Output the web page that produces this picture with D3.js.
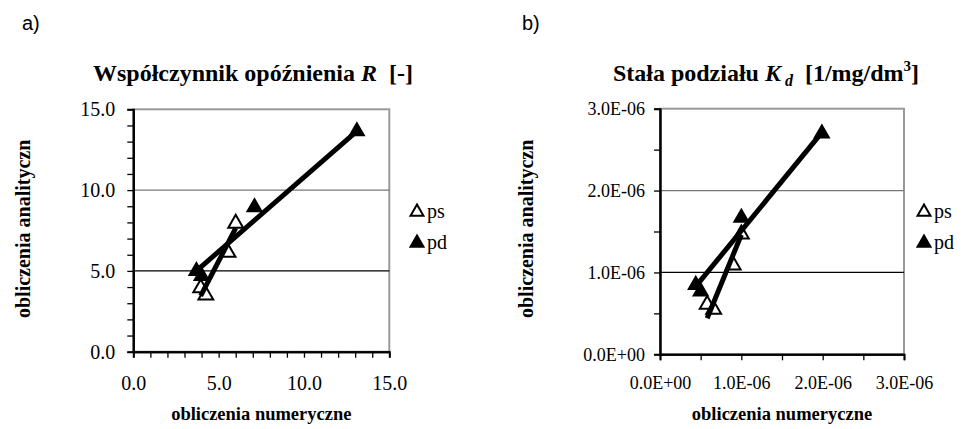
<!DOCTYPE html>
<html>
<head>
<meta charset="utf-8">
<script src="https://cdn.jsdelivr.net/npm/d3@7"></script>
<style>
  body { margin: 0; background: #fff; }
  svg { display: block; }
</style>
</head>
<body>
<svg id="chart" width="962" height="429"></svg>
<script>
// panel a: retardation factor R
const psNumA = [3.95, 4.25, 5.55, 6.0]
const psAnaA = [4.0, 3.55, 6.2, 8.0]
const pdNumA = [3.7, 4.0, 7.1, 13.1]
const pdAnaA = [5.05, 4.75, 9.0, 13.7]
const psTrendA = [[3.95, 3.45], [6.0, 7.65]]
const pdTrendA = [[3.7, 5.0], [13.1, 13.65]]
const ticksA = [0, 5, 10, 15]

// panel b: partition coefficient Kd
const psNumB = [1.0e-6, 0.9e-6, 0.58e-6, 0.66e-6]
const psAnaB = [1.48e-6, 1.1e-6, 0.62e-6, 0.56e-6]
const pdNumB = [1.0e-6, 0.44e-6, 0.5e-6, 1.99e-6]
const pdAnaB = [1.68e-6, 0.86e-6, 0.78e-6, 2.71e-6]
const psTrendB = [[0.58e-6, 0.44e-6], [1.0e-6, 1.46e-6]]
const pdTrendB = [[0.44e-6, 0.83e-6], [1.99e-6, 2.71e-6]]
const ticksB = [0, 1e-6, 2e-6, 3e-6]

const serif = "'Liberation Serif', serif"
const sans = "'Liberation Sans', sans-serif"
const zip = (a, b) => a.map((v, i) => [v, b[i]])
const fmtA = d3.format('.1f')
const fmtB = d => d === 0 ? '0.0E+00' : (d / 1e-6).toFixed(1) + 'E-06'

const svg = d3.select('#chart')

const panel = opts => {
  const g = svg.append('g')
  const x = d3.scaleLinear().domain(opts.domain).range([opts.left, opts.right])
  const y = d3.scaleLinear().domain(opts.domain).range([opts.bottom, opts.top])

  // panel letter
  g.append('text')
    .attr('x', opts.letterX).attr('y', 30)
    .style('font-family', sans).style('font-size', '20px')
    .text(opts.letter)

  // title
  const title = g.append('text')
    .attr('x', opts.titleX).attr('y', 81)
    .attr('text-anchor', 'middle')
    .style('font-family', serif).style('font-size', '24px').style('font-weight', 'bold')
  opts.title(title)

  // plot frame (grey top/right)
  g.append('rect')
    .attr('x', opts.left).attr('y', opts.top)
    .attr('width', opts.right - opts.left).attr('height', opts.bottom - opts.top)
    .attr('fill', 'none').attr('stroke', '#999').attr('stroke-width', 2)

  // gridlines
  g.selectAll('.grid')
    .data(opts.ticks.slice(1, -1))
    .enter().append('line')
    .attr('x1', opts.left).attr('x2', opts.right)
    .attr('y1', d => y(d)).attr('y2', d => y(d))
    .attr('stroke', (d, i) => i === 0 ? '#000' : '#777')
    .attr('stroke-width', 1.3)

  const minor = d3.range(opts.domain[0], opts.domain[1] + opts.minor / 2, opts.minor)

  const yAxis = g.append('g')
    .attr('transform', `translate(${opts.left},0)`)
    .call(d3.axisLeft(y).tickValues(minor).tickSize(6).tickFormat(''))
  yAxis.append('g')
    .call(d3.axisLeft(y).tickValues(opts.ticks).tickSize(0).tickPadding(opts.yPad).tickFormat(opts.fmt))

  const xAxis = g.append('g')
    .attr('transform', `translate(0,${opts.bottom})`)
    .call(d3.axisBottom(x).tickValues(minor).tickSize(6).tickFormat(''))
  xAxis.append('g')
    .call(d3.axisBottom(x).tickValues(opts.ticks).tickSize(0).tickPadding(opts.xPad).tickFormat(opts.fmt))

  g.selectAll('.domain').attr('stroke', '#000').attr('stroke-width', 2)
  g.selectAll('.tick line').attr('stroke', '#000').attr('stroke-width', 1.3)
  g.selectAll('.tick text')
    .style('font-family', serif).style('font-size', opts.tickSize + 'px').attr('fill', '#000')

  // axis titles
  g.append('text')
    .attr('x', (opts.left + opts.right) / 2).attr('y', 420)
    .attr('text-anchor', 'middle')
    .style('font-family', serif).style('font-size', '18.5px').style('font-weight', 'bold')
    .text('obliczenia numeryczne')
  g.append('text')
    .attr('transform', `translate(${opts.yTitleX},${opts.yTitleY}) rotate(-90)`)
    .style('font-family', serif).style('font-size', '20px').style('font-weight', 'bold')
    .text('obliczenia analityczn')

  const line = d3.line().x(d => x(d[0])).y(d => y(d[1]))
  const tri = d3.symbol(d3.symbolTriangle, 95)
  const triLeg = d3.symbol(d3.symbolTriangle, 72)

  // markers
  g.selectAll('.ps')
    .data(opts.ps)
    .enter().append('path')
    .attr('d', tri)
    .attr('transform', d => `translate(${x(d[0])},${y(d[1]) + 1})`)
    .attr('fill', '#fff').attr('stroke', '#000').attr('stroke-width', 2)
  g.selectAll('.pd')
    .data(opts.pd)
    .enter().append('path')
    .attr('d', tri)
    .attr('transform', d => `translate(${x(d[0])},${y(d[1]) + 1})`)
    .attr('fill', '#000').attr('stroke', '#000').attr('stroke-width', 1.5)

  // trend lines
  g.selectAll('.trend')
    .data([opts.psTrend, opts.pdTrend])
    .enter().append('path')
    .attr('d', line)
    .attr('fill', 'none').attr('stroke', '#000').attr('stroke-width', 5)

  // legend
  const leg = g.append('g').attr('transform', `translate(${opts.legX},0)`)
  leg.selectAll('path')
    .data([{ y: 212, fill: '#fff' }, { y: 243, fill: '#000' }])
    .enter().append('path')
    .attr('d', triLeg)
    .attr('transform', d => `translate(0,${d.y})`)
    .attr('fill', d => d.fill).attr('stroke', '#000').attr('stroke-width', 2)
  leg.selectAll('text')
    .data([{ y: 212, t: 'ps' }, { y: 243, t: 'pd' }])
    .enter().append('text')
    .attr('x', 10).attr('y', d => d.y + 6)
    .style('font-family', serif).style('font-size', '20px')
    .text(d => d.t)
}

panel({
  letter: 'a)', letterX: 22, titleX: 253,
  title: t => {
    t.append('tspan').text('Współczynnik opóźnienia ')
    t.append('tspan').style('font-style', 'italic').text('R')
    t.append('tspan').text('\u00a0 [-]')
  },
  domain: [0, 15], minor: 1, ticks: ticksA, fmt: fmtA, tickSize: 20,
  left: 133.3, right: 389.3, top: 109.3, bottom: 351.7,
  yPad: 18, xPad: 24,
  yTitleX: 30, yTitleY: 318,
  ps: zip(psNumA, psAnaA), pd: zip(pdNumA, pdAnaA),
  psTrend: psTrendA, pdTrend: pdTrendA,
  legX: 417
})

panel({
  letter: 'b)', letterX: 522, titleX: 766,
  title: t => {
    t.append('tspan').text('Stała podziału ')
    t.append('tspan').style('font-style', 'italic').text('K')
    t.append('tspan').style('font-style', 'italic').style('font-size', '16px').attr('dy', 5).text(' d')
    t.append('tspan').attr('dy', -5).text('\u00a0 [1/mg/dm')
    t.append('tspan').style('font-size', '15px').attr('dy', -10).text('3')
    t.append('tspan').attr('dy', 10).text(']')
  },
  domain: [0, 3e-6], minor: 0.5e-6, ticks: ticksB, fmt: fmtB, tickSize: 18,
  left: 660, right: 904, top: 108.7, bottom: 354.3,
  yPad: 15, xPad: 22,
  yTitleX: 533, yTitleY: 318,
  ps: zip(psNumB, psAnaB), pd: zip(pdNumB, pdAnaB),
  psTrend: psTrendB, pdTrend: pdTrendB,
  legX: 924
})
</script>
</body>
</html>
